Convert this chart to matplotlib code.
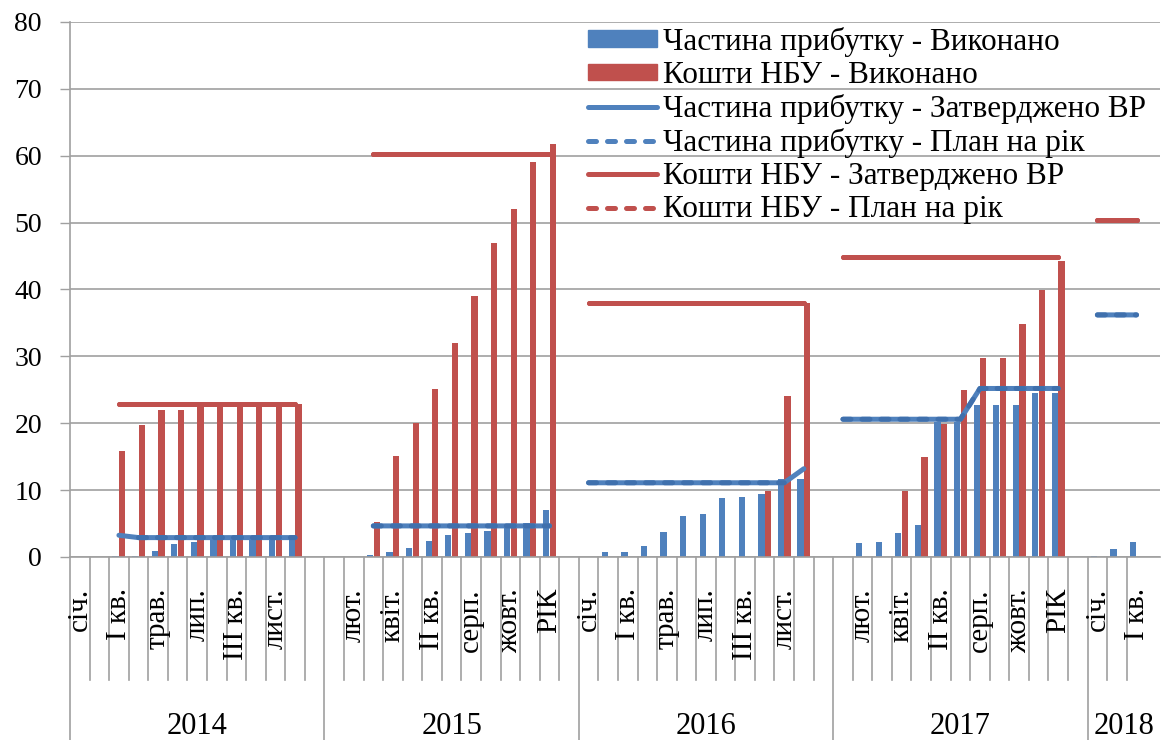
import numpy as np
import matplotlib.pyplot as plt
from matplotlib.patches import Patch
from matplotlib.lines import Line2D
from matplotlib.transforms import blended_transform_factory

plt.rcParams['font.family'] = ['Liberation Serif', 'DejaVu Serif']

BLUE = '#4F81BD'
RED = '#C0504D'
N = None

years = ['2014', '2015', '2016', '2017', '2018']
year_sizes = [13, 13, 13, 13, 3]
months = ['січ.', 'лют.', 'I кв.', 'квіт.', 'трав.', 'II кв.', 'лип.',
          'серп.', 'III кв.', 'жовт.', 'лист.', 'РІК', '']

# Частина прибутку - Виконано
profit_done = [
    N, N, 0.15, 0.2, 0.9, 2.0, 2.25, 2.7, 2.9, 2.95, 3.0, 3.0, N,
    N, N, 0.35, 0.75, 1.35, 2.4, 3.25, 3.65, 3.85, 4.6, 5.15, 7.1, N,
    N, 0.75, 0.75, 1.65, 3.8, 6.1, 6.5, 8.75, 9.0, 9.4, 11.6, 11.65, N,
    N, 2.1, 2.25, 3.65, 4.75, 20.2, 20.2, 22.8, 22.8, 22.8, 24.55, 24.55, N,
    0.1, 1.25, 2.25,
]
# Кошти НБУ - Виконано
nbu_done = [
    N, N, 15.8, 19.7, 22.05, 22.05, 22.8, 22.9, 22.9, 22.9, 22.9, 22.9, N,
    N, N, 5.25, 15.1, 20.1, 25.05, 32.0, 39.1, 46.9, 52.0, 59.0, 61.7, N,
    N, N, N, N, N, N, N, N, N, 9.9, 24.0, 38.0, N,
    N, N, N, 9.9, 14.9, 19.85, 24.9, 29.8, 29.8, 34.9, 39.9, 44.25, N,
    N, N, N,
]
# Частина прибутку - Затверджено ВР
profit_vr = [
    N, N, 3.25, 2.9, 2.9, 2.9, 2.9, 2.9, 2.9, 2.9, 2.9, 2.9, N,
    N, N, 4.65, 4.65, 4.65, 4.65, 4.65, 4.65, 4.65, 4.65, 4.65, 4.65, N,
    11.1, 11.1, 11.1, 11.1, 11.1, 11.1, 11.1, 11.1, 11.1, 11.1, 11.1, 13.2, N,
    20.6, 20.6, 20.6, 20.6, 20.6, 20.6, 20.6, 25.2, 25.2, 25.2, 25.2, 25.2, N,
    36.2, 36.2, 36.2,
]
# Частина прибутку - План на рік
profit_plan = [
    N, N, N, 2.9, 2.9, 2.9, 2.9, 2.9, 2.9, 2.9, 2.9, 2.9, N,
    N, N, 4.65, 4.65, 4.65, 4.65, 4.65, 4.65, 4.65, 4.65, 4.65, 4.65, N,
    11.1, 11.1, 11.1, 11.1, 11.1, 11.1, 11.1, 11.1, 11.1, 11.1, 11.1, N, N,
    20.6, 20.6, 20.6, 20.6, 20.6, 20.6, 20.6, 25.2, 25.2, 25.2, 25.2, 25.2, N,
    36.2, 36.2, 36.2,
]
# Кошти НБУ - Затверджено ВР
nbu_vr = [
    N, N, 22.9, 22.9, 22.9, 22.9, 22.9, 22.9, 22.9, 22.9, 22.9, 22.9, N,
    N, N, 60.3, 60.3, 60.3, 60.3, 60.3, 60.3, 60.3, 60.3, 60.3, 60.3, N,
    38.0, 38.0, 38.0, 38.0, 38.0, 38.0, 38.0, 38.0, 38.0, 38.0, 38.0, 38.0, N,
    44.9, 44.9, 44.9, 44.9, 44.9, 44.9, 44.9, 44.9, 44.9, 44.9, 44.9, 44.9, N,
    50.4, 50.4, 50.4,
]
# Кошти НБУ - План на рік
nbu_plan = list(nbu_vr)


def arr(v):
    return np.array([np.nan if a is None else a for a in v], dtype=float)


labels = []
for y, n in zip(years, year_sizes):
    labels += months[:n]
x = np.arange(len(labels)) + 0.5

fig = plt.figure(figsize=(11.66, 7.4), dpi=100)
ax = fig.add_axes([70 / 1166, 183 / 740, 1090 / 1166, 535 / 740])

ax.set_ylim(0, 80)
ax.set_xlim(0, len(labels) + 0.7)
ax.set_yticks(range(0, 81, 10))
ax.yaxis.grid(True, color='#a0a0a0', linewidth=1.2, zorder=0)
ax.set_axisbelow(True)
ax.tick_params(axis='y', length=7.2, width=1, color='#a0a0a0', pad=13, labelsize=20)
ax.set_xticks([])
for s in ['top', 'right']:
    ax.spines[s].set_visible(False)
for s in ['left', 'bottom']:
    ax.spines[s].set_color('#a0a0a0')
    ax.spines[s].set_linewidth(1.2)

bw = 0.32
ax.bar(x - bw / 2 - 0.01, arr(profit_done), bw, color=BLUE, zorder=2)
ax.bar(x + bw / 2 + 0.01, arr(nbu_done), bw, color=RED, zorder=2)

lw = 3.6
ax.plot(x, arr(profit_vr), color=BLUE, lw=lw, solid_capstyle='round', zorder=3)
ax.plot(x, arr(profit_plan), color='#3f70ad', lw=lw, ls=(0, (1.6, 2.2)),
        dash_capstyle='round', zorder=4)
ax.plot(x, arr(nbu_vr), color=RED, lw=lw, solid_capstyle='round', zorder=3)
ax.plot(x, arr(nbu_plan), color=RED, lw=lw, ls=(0, (1.6, 2.2)),
        dash_capstyle='round', zorder=4)

# multi-level category axis
tr = blended_transform_factory(ax.transData, ax.transAxes)
bounds = np.cumsum([0] + year_sizes)
for i in range(1, len(labels) + 1):
    if i in bounds:
        continue
    ax.plot([i, i], [0, -0.23], transform=tr, color='#a0a0a0', lw=1.2, clip_on=False)
for b in bounds[:-1]:
    ax.plot([b, b], [0, -0.35], transform=tr, color='#a0a0a0', lw=1.2, clip_on=False)

for i, lab in enumerate(labels):
    if i % 2 == 0 and lab:
        ax.text(x[i], -0.058, lab, transform=tr, rotation=90, ha='center', va='top',
                fontsize=21)

ends = list(bounds[1:-1]) + [len(labels) + 0.7]
for y, a, b in zip(years, bounds[:-1], ends):
    ax.text((a + b) / 2, -0.331, y, transform=tr, ha='center', va='baseline', fontsize=22)

handles = [
    Patch(color=BLUE),
    Patch(color=RED),
    Line2D([], [], color=BLUE, lw=lw, solid_capstyle='round'),
    Line2D([], [], color=BLUE, lw=lw, ls=(0, (1.6, 2.2)), dash_capstyle='round'),
    Line2D([], [], color=RED, lw=lw, solid_capstyle='round'),
    Line2D([], [], color=RED, lw=lw, ls=(0, (1.6, 2.2)), dash_capstyle='round'),
]
names = [
    'Частина прибутку - Виконано',
    'Кошти НБУ - Виконано',
    'Частина прибутку - Затверджено ВР',
    'Частина прибутку - План на рік',
    'Кошти НБУ - Затверджено ВР',
    'Кошти НБУ - План на рік',
]
ax.legend(handles, names, loc='upper left', bbox_to_anchor=(588 / 1166, 1 - 27 / 740),
          bbox_transform=fig.transFigure, frameon=False, fontsize=22.5,
          handlelength=2.2, handleheight=0.45, handletextpad=0.2,
          labelspacing=0.13, borderpad=0, borderaxespad=0)

fig.savefig('out.png', dpi=100)
